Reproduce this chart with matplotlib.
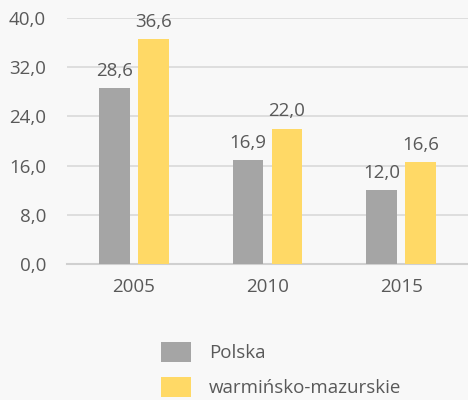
import matplotlib.pyplot as plt
import numpy as np
from matplotlib.patches import Patch

years = ["2005", "2010", "2015"]
polska = [28.6, 16.9, 12.0]
warm_maz = [36.6, 22.0, 16.6]
series_names = ["Polska", "warmińsko-mazurskie"]

bg = "#f8f8f8"
txt = "#595959"
colors = ["#a5a5a5", "#ffd966"]

plt.rcParams["font.family"] = ["Open Sans", "DejaVu Sans"]

fig = plt.figure(figsize=[4.68, 4.0], dpi=100, facecolor=bg)
ax = fig.add_axes([67 / 468, 1 - 264 / 400, 401 / 468, 246 / 400], facecolor=bg)

x = np.arange(len(years))
w = 0.23
gap = 0.06
off = (w + gap) / 2
b1 = ax.bar(x - off, polska, w, color=colors[0], zorder=3)
b2 = ax.bar(x + off, warm_maz, w, color=colors[1], zorder=3)

fmt = lambda v: f"{v:.1f}".replace(".", ",")
for bars, vals in [(b1, polska), (b2, warm_maz)]:
    for rect, v in zip(bars, vals):
        ax.annotate(fmt(v), (rect.get_x() + rect.get_width() / 2, v),
                    xytext=(0, 6), textcoords="offset points",
                    ha="center", va="bottom", fontsize=13.5, color=txt)

ax.set_xlim(-0.5, 2.5)
ax.set_ylim(0, 40)
ticks = np.arange(0, 41, 8)
ax.set_yticks(ticks)
ax.set_yticklabels([fmt(t) for t in ticks])
ax.set_xticks(x)
ax.set_xticklabels(years)
ax.tick_params(length=0, labelsize=13.5, colors=txt)
ax.tick_params(axis="y", pad=15)
ax.tick_params(axis="x", pad=10)
ax.yaxis.grid(True, color="#d9d9d9", linewidth=1.2, zorder=0)
for s in ["top", "right", "left"]:
    ax.spines[s].set_visible(False)
ax.spines["bottom"].set_color("#d0d0d0")
ax.spines["bottom"].set_linewidth(1.5)

handles = [Patch(facecolor=c, edgecolor="none") for c in colors]
fig.legend(handles, series_names, loc="upper left", bbox_to_anchor=(161 / 468, 1 - 342 / 400),
           frameon=False, fontsize=13.5, labelcolor=txt, handlelength=1.6, handleheight=1.25,
           handletextpad=0.95, labelspacing=0.8, borderpad=0, borderaxespad=0)

fig.savefig("out.png", dpi=100, facecolor=bg)
